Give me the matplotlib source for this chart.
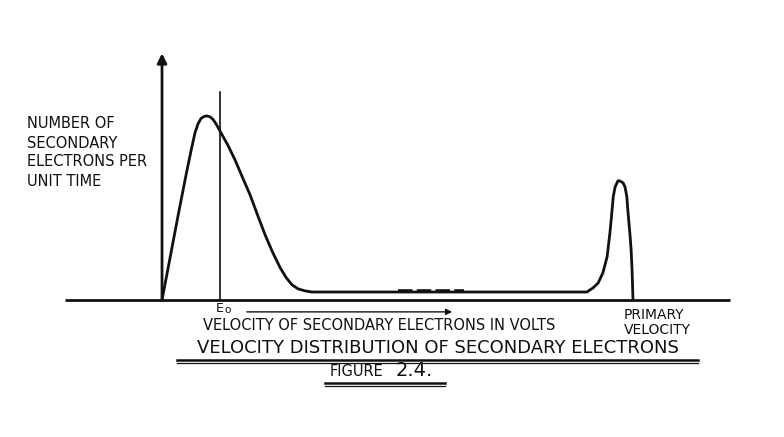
import numpy as np
import matplotlib
matplotlib.use('Agg')
import matplotlib.pyplot as plt

# Secondary electron energy distribution
# velocity as % of primary velocity, count as % of the low-energy peak
velocity = [0, 1.7, 3.4, 5.1, 6.2, 7.0, 7.64, 8.28, 8.92, 9.55, 10.19, 10.83,
            11.46, 12.31, 14.0, 15.5, 17.1, 18.7, 20.3, 21.9, 23.5, 25.1, 26.4,
            27.6, 28.9, 30.4, 31.8, 50.0, 70.0, 90.2, 91.5, 92.6, 93.6, 94.5,
            95.1, 95.5, 95.8, 96.2, 96.6, 96.8, 97.2, 97.9, 98.3, 98.7, 98.9,
            99.4, 99.6, 99.8, 100.0]
count = [0, 22.8, 45.7, 67.9, 81.5, 90.8, 95.7, 98.6, 99.7, 100, 99.5, 98.1,
         95.7, 91.8, 84.0, 76.1, 66.5, 57.1, 46.0, 35.3, 25.8, 17.4, 12.0,
         8.2, 6.0, 4.9, 4.3, 4.3, 4.3, 4.3, 6.5, 9.2, 14.7, 23.4,
         36.4, 47.3, 56.0, 61.4, 63.6, 64.7, 64.7, 63.6, 61.4, 56.0, 48.9,
         34.2, 27.2, 16.3, 0]
e0 = 12.3             # E0 marker
break_range = [50.0, 64.2]   # dashed break on the flat part

ylabel_lines = ['NUMBER OF', 'SECONDARY', 'ELECTRONS PER', 'UNIT TIME']

fig = plt.figure(figsize=(7.84, 4.37), dpi=100)
ax = fig.add_axes([0, 0, 1, 1])
ax.set_xlim(-34.4, 132.06)
ax.set_ylim(-74.5, 163.0)
ax.axis('off')

ink = '#111111'

# axes
ax.plot([-20.6, 120.6], [0, 0], color=ink, lw=2.0, solid_capstyle='butt')
ax.annotate('', xy=(0, 134), xytext=(0, 0),
            arrowprops=dict(arrowstyle='-|>', color=ink, lw=2.0,
                            mutation_scale=14, shrinkA=0, shrinkB=0))

# curve
ax.plot(velocity, count, color=ink, lw=2.0, solid_joinstyle='round')

# E0 line
ax.plot([e0, e0], [0, 113], color=ink, lw=1.2)

# break marks on the flat tail
ax.plot(break_range, [4.9, 4.9], color=ink, lw=2.6,
        dashes=(4.0, 1.2), solid_capstyle='butt', dash_capstyle='butt')

# arrow of increasing velocity
ax.annotate('', xy=(61.6, -6.5), xytext=(18.0, -6.5),
            arrowprops=dict(arrowstyle='-|>', color=ink, lw=1.0,
                            mutation_scale=9, shrinkA=0, shrinkB=0))

W, H = 784.0, 437.0
def ftext(x, y, s, **kw):
    fig.text(x / W, 1 - y / H, s, color=ink, va='center', **kw)

for i, line in enumerate(ylabel_lines):
    ftext(27, 124 + 19 * i, line, fontsize=10.5, ha='left')

ftext(216, 309, 'E', fontsize=9, ha='left')
ftext(224, 310, 'o', fontsize=7.5, ha='left')
ftext(203, 325, 'VELOCITY OF SECONDARY ELECTRONS IN VOLTS', fontsize=10.5, ha='left')
ftext(624, 315, 'PRIMARY', fontsize=10, ha='left')
ftext(624, 330, 'VELOCITY', fontsize=10, ha='left')

ftext(438, 348, 'VELOCITY DISTRIBUTION OF SECONDARY ELECTRONS', fontsize=13, ha='center')
fig.add_artist(plt.Line2D([177 / W, 698 / W], [1 - 359.5 / H] * 2, color=ink, lw=1.8))
fig.add_artist(plt.Line2D([177 / W, 698 / W], [1 - 362.5 / H] * 2, color=ink, lw=0.9))

ftext(330, 372, 'FIGURE', fontsize=10.5, ha='left')
ftext(396, 371, '2.4.', fontsize=14, ha='left')
fig.add_artist(plt.Line2D([325 / W, 445 / W], [1 - 383 / H] * 2, color=ink, lw=1.8))
fig.add_artist(plt.Line2D([325 / W, 445 / W], [1 - 386 / H] * 2, color=ink, lw=0.9))

fig.savefig('out.png', dpi=100, facecolor='white')
